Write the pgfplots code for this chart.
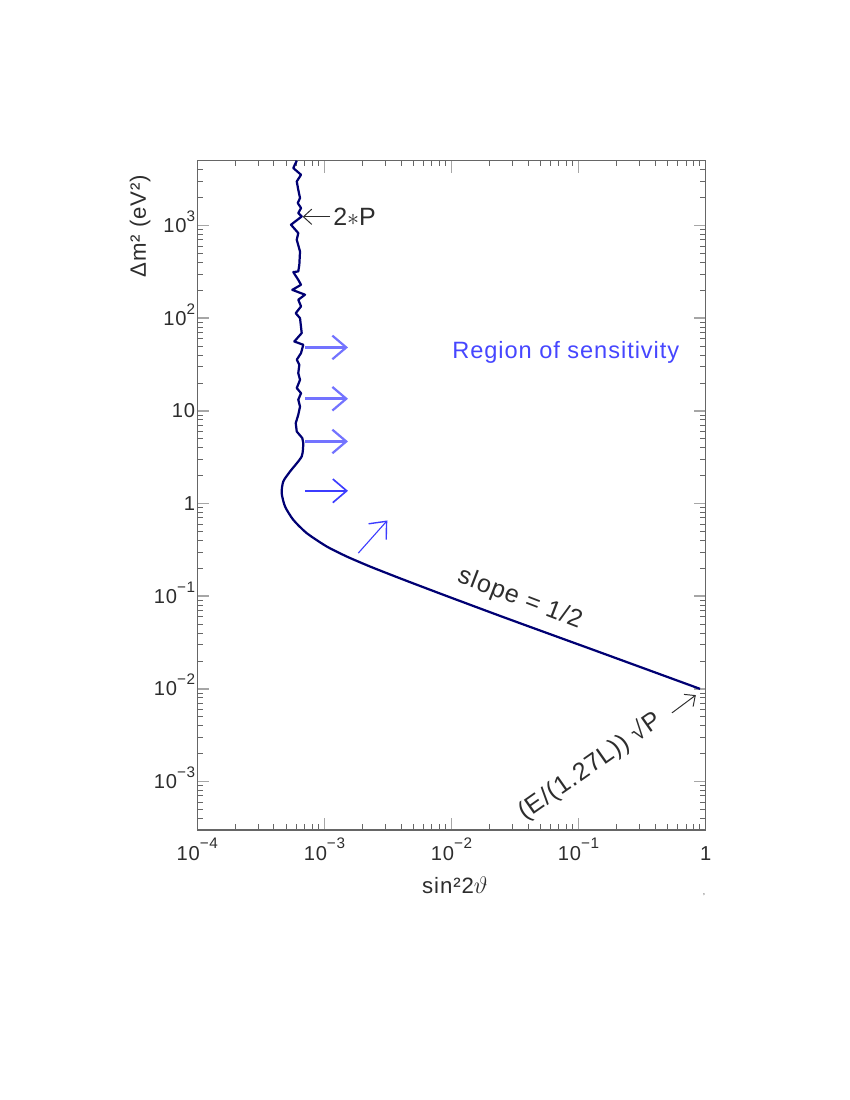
\documentclass[border=0pt]{standalone}
\usepackage{pgfplots}
\pgfplotsset{compat=1.18}
\usepackage{fontspec}
\setmainfont[LetterSpace=4]{Liberation Sans}
\usetikzlibrary{arrows.meta}
\definecolor{navy}{RGB}{0,0,115}
\definecolor{txt}{RGB}{45,45,45}
\definecolor{ablueL}{RGB}{115,115,255}
\definecolor{ablueD}{RGB}{60,60,255}
\definecolor{rblue}{RGB}{70,70,255}
\newcommand\sps[1]{\raisebox{0.55em}{\fontsize{11}{12}\selectfont #1}}
\begin{document}
\begin{tikzpicture}
\useasboundingbox (0,0) rectangle (612pt,792pt);
\begin{axis}[
  at={(142.06pt,194.4pt)}, anchor=south west,
  scale only axis, width=366.05pt, height=481.9pt,
  xmode=log, ymode=log,
  xmin=1e-4, xmax=1, ymin=3e-4, ymax=5e3,
  xtick={1e-4,1e-3,1e-2,1e-1,1},
  xticklabels={10\sps{−4},10\sps{−3},10\sps{−2},10\sps{−1},1},
  ytick={1e-3,1e-2,1e-1,1,10,100,1000},
  yticklabels={10\sps{−3},10\sps{−2},10\sps{−1},1,10,10\sps{2},10\sps{3}},
  minor xtick={2e-4,3e-4,4e-4,5e-4,6e-4,7e-4,8e-4,9e-4,2e-3,3e-3,4e-3,5e-3,6e-3,7e-3,8e-3,9e-3,0.02,0.03,0.04,0.05,0.06,0.07,0.08,0.09,0.2,0.3,0.4,0.5,0.6,0.7,0.8,0.9},
  minor ytick={4e-4,5e-4,6e-4,7e-4,8e-4,9e-4,2e-3,3e-3,4e-3,5e-3,6e-3,7e-3,8e-3,9e-3,0.02,0.03,0.04,0.05,0.06,0.07,0.08,0.09,0.2,0.3,0.4,0.5,0.6,0.7,0.8,0.9,2,3,4,5,6,7,8,9,20,30,40,50,60,70,80,90,200,300,400,500,600,700,800,900,2000,3000,4000},
  tick align=inside,
  major tick length=8.6pt, minor tick length=4pt,
  axis line style={draw=black!60, line width=0.8pt},
  major tick style={draw=black!35, line width=1pt},
  minor tick style={draw=black!60, line width=0.6pt},
  ticklabel style={font=\fontsize{14.5}{16}\selectfont, text=txt},
  xticklabel style={anchor=base, yshift=-21.6pt},
  yticklabel style={anchor=base east, yshift=-5pt, xshift=2pt},
  clip=false,
]
\addplot[navy, line width=1.6pt, line join=round] coordinates {
(6.06e-4,5000) (5.69e-4,4164) (6.55e-4,3525) (6.06e-4,2984) (6.23e-4,2428)
(6.43e-4,1975) (6.17e-4,1745) (6.55e-4,1541) (6.23e-4,1361) (6.63e-4,1251)
(5.46e-4,1018) (6.23e-4,828) (6.06e-4,701) (6.43e-4,524) (6.35e-4,377)
(6.23e-4,319) (5.69e-4,314) (6.23e-4,259) (6.55e-4,229) (5.59e-4,202)
(7.04e-4,179) (6.23e-4,158) (6.55e-4,134) (5.95e-4,113) (6.43e-4,100)
(6.63e-4,69.0) (5.80e-4,56.0) (6.82e-4,51.6) (6.55e-4,42.0) (6.06e-4,35.6)
(6.35e-4,31.4) (6.23e-4,25.5) (6.43e-4,21.6) (6.06e-4,17.6) (6.55e-4,15.5)
(6.23e-4,13.2) (6.43e-4,11.1) (6.23e-4,9.07) (5.95e-4,7.37) (6.06e-4,5.98)
(6.70e-4,5.08) (6.82e-4,4.49)
};
\addplot[navy, line width=1.6pt, smooth, tension=0.4] coordinates {
(6.82e-4,4.49) (6.63e-4,3.22) (5.36e-4,2.21) (4.75e-4,1.73) (4.61e-4,1.30)
(4.90e-4,0.929) (5.69e-4,0.667) (7.26e-4,0.479) (1.042e-3,0.344) (1.498e-3,0.268)
(2.285e-3,0.209) (3.93e-3,0.156) (7.19e-3,0.1138) (1.167e-2,0.0887) (0.02407,0.0613)
(0.05,0.0425) (0.1474,0.0248) (0.902,0.0100)
};
% blue arrows
\draw[ablueL, line width=2pt, -{Straight Barb[length=10pt,width=17pt,line width=1.6pt]}]
  (axis cs:7.04e-4,48.3) -- (axis cs:1.533e-3,48.3);
\draw[ablueL, line width=2pt, -{Straight Barb[length=10pt,width=17pt,line width=1.6pt]}]
  (axis cs:7.04e-4,13.5) -- (axis cs:1.533e-3,13.5);
\draw[ablueL, line width=2.2pt, -{Straight Barb[length=10pt,width=17pt,line width=1.6pt]}]
  (axis cs:7.04e-4,4.67) -- (axis cs:1.533e-3,4.67);
\draw[ablueD, line width=1.3pt, -{Straight Barb[length=10pt,width=17pt,line width=1.2pt]}]
  (axis cs:7.04e-4,1.37) -- (axis cs:1.533e-3,1.37);
\draw[ablueD, line width=0.8pt, -{Straight Barb[length=10pt,width=17pt,line width=1pt]}]
  (axis cs:1.848e-3,0.2917) -- (axis cs:3.126e-3,0.656);
% black arrows
\draw[txt, line width=0.7pt, -{Straight Barb[length=6pt,width=11pt]}]
  (axis cs:1.107e-3,1241) -- (axis cs:6.75e-4,1241);
\draw[txt, line width=0.7pt, -{Straight Barb[length=6pt,width=11pt]}]
  (axis cs:0.543,5.51e-3) -- (axis cs:0.836,8.56e-3);
% texts
\node[anchor=west, inner sep=0pt, font=\fontsize{18}{20}\selectfont, text=txt] at (axis cs:1.169e-3,1241) {2$\ast$P};
\node[anchor=west, inner sep=0pt, font=\fontsize{17}{20}\selectfont, text=rblue] at (axis cs:1.009e-2,42.3) {Region of sensitivity};
\node[rotate=-21, font=\fontsize{18}{20}\selectfont, text=txt] at (axis cs:0.0345,0.0925) {slope = 1/2};
\node[rotate=35, font=\fontsize{18}{20}\selectfont, text=txt] at (axis cs:0.1229,1.45e-3) {(E/(1.27L)) √P};
\end{axis}
\node[font=\fontsize{16}{18}\selectfont, text=txt] at (327.6pt,154.8pt) {sin²2$\vartheta$};
\node[rotate=90, font=\fontsize{16}{18}\selectfont, text=txt] at (100.8pt,629.3pt) {Δm² (eV²)};
\node[font=\fontsize{6}{7}\selectfont, text=txt] at (506.9pt,146.2pt) {'};
\end{tikzpicture}
\end{document}
